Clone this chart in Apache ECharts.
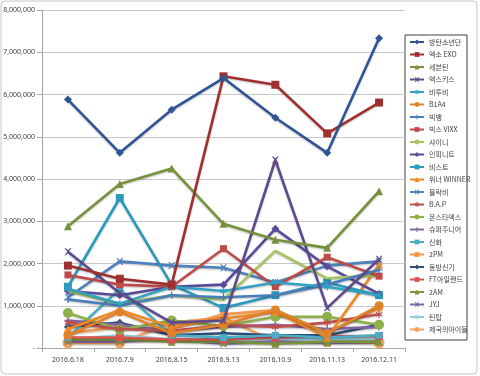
<!DOCTYPE html>
<html><head><meta charset="utf-8">
<script src="https://cdn.jsdelivr.net/npm/echarts@6/dist/echarts.min.js"></script>
<style>html,body{margin:0;padding:0;background:#fff}#c{width:480px;height:376px}</style>
</head><body><div id="c"></div>
<script>
const categories = ['2016.6.18','2016.7.9','2016.8.15','2016.9.13','2016.10.9','2016.11.13','2016.12.11'];
const yTicks = [0,1000000,2000000,3000000,4000000,5000000,6000000,7000000,8000000];
const names = ['방탄소년단','엑소 EXO','세븐틴','엑스키스','비투비','B1A4','빅뱅','빅스 VIXX','샤이니','인피니트','비스트','위너 WINNER','블락비','B.A.P','몬스타엑스','슈퍼주니어','신화','2PM','동방신기','FT아일랜드','2AM','JYJ','틴탑','제국의아이들'];
const bts      = [5880000,4620000,5640000,6390000,5450000,4620000,7330000];
const exo      = [1950000,1640000,1500000,6430000,6230000,5080000,5810000];
const seventeen= [2880000,3880000,4250000,2940000,2560000,2370000,3710000];
const xkiss    = [2280000,1300000,600000,650000,4450000,950000,2100000];
const btob     = [1400000,1050000,1450000,1350000,1550000,1450000,1250000];
const b1a4     = [300000,850000,350000,550000,900000,350000,1000000];
const bigbang  = [1150000,1000000,1250000,1200000,1250000,1500000,1850000];
const vixx     = [1730000,1500000,1450000,2350000,1450000,2150000,1700000];
const shinee   = [1350000,1050000,1250000,1150000,2300000,1650000,1720000];
const infinite = [1350000,1250000,1450000,1500000,2820000,1930000,1280000];
const beast    = [1450000,3550000,1500000,950000,1250000,1550000,1250000];
const winner   = [450000,900000,500000,700000,850000,250000,1970000];
const blockb   = [1200000,2050000,1950000,1900000,1550000,1950000,2050000];
const bap      = [600000,450000,400000,550000,500000,600000,800000];
const monstax  = [830000,430000,650000,520000,740000,740000,550000];
const suju     = [650000,550000,400000,500000,550000,450000,500000];
const shinhwa  = [250000,1400000,300000,250000,300000,250000,300000];
const twopm    = [350000,500000,450000,800000,900000,350000,950000];
const tvxq     = [500000,600000,300000,350000,300000,300000,550000];
const ftisland = [250000,250000,200000,200000,250000,280000,280000];
const twoam    = [200000,200000,150000,150000,100000,150000,150000];
const jyj      = [150000,150000,200000,100000,150000,120000,150000];
const teentop  = [200000,300000,200000,200000,200000,200000,200000];
const zea      = [120000,120000,600000,720000,150000,150000,120000];
const allData = [bts,exo,seventeen,xkiss,btob,b1a4,bigbang,vixx,shinee,infinite,beast,winner,blockb,bap,monstax,suju,shinhwa,twopm,tvxq,ftisland,twoam,jyj,teentop,zea];

const colors = ['#2F5597','#A0302E','#76923C','#5F4B8B','#31A2C3','#E0822A','#4A7EBB','#BE4B48','#A6C55E','#5A4A9A','#2A9BBC','#F08A24','#4F81BD','#C0504D','#8DB04A','#8064A2','#4BACC6','#F79646','#2C4D75','#D9534F','#77933C','#8064A2','#93CDDD','#F2A45C'];
const X = 'path://M0,0L2,0L5,3L8,0L10,0L6,5L10,10L8,10L5,7L2,10L0,10L4,5Z';
const STAR = 'path://M4,0H6V3.5L9,1.5L10,3.2L7,5L10,6.8L9,8.5L6,6.5V10H4V6.5L1,8.5L0,6.8L3,5L0,3.2L1,1.5L4,3.5Z';
const PLUS = 'path://M4,0H6V4H10V6H6V10H4V6H0V4H4Z';
const DASH = 'path://M0,4H10V6H0Z';
const symbols = ['diamond','rect','triangle',X,STAR,'circle',PLUS,DASH,'none','diamond','rect','triangle',X,STAR,'circle',PLUS,DASH,DASH,'diamond','rect','triangle',X,STAR,'circle'];
const sizes = [8,8,8,7,7,9,7,7,0,8,8,8,7,7,10,7,7,7,8,8,8,7,7,11];

const chart = echarts.init(document.getElementById('c'));
const series = names.map((n,i)=>({
  name:n, type:'line', data:allData[i],
  symbol:symbols[i], symbolSize:sizes[i], showSymbol: symbols[i]!=='none',
  lineStyle:{width:2.6,color:colors[i],shadowColor:'rgba(0,0,0,0.25)',shadowBlur:2,shadowOffsetY:1},
  itemStyle:{color:colors[i]},
  z: 24-i, animation:false
}));
chart.setOption({
  animation:false,
  color:colors,
  grid:{left:42,right:75,top:10,bottom:28},
  xAxis:{type:'category',data:categories,boundaryGap:true,
    axisLine:{lineStyle:{color:'#A6A6A6'}},
    axisTick:{show:true,alignWithLabel:false,length:4,lineStyle:{color:'#A6A6A6'}},
    axisLabel:{fontSize:7,color:'#404040',margin:8,fontFamily:'Noto Sans'}},
  yAxis:{type:'value',min:0,max:8000000,interval:1000000,
    axisLine:{show:true,lineStyle:{color:'#A6A6A6'}},
    axisTick:{show:true,length:5,lineStyle:{color:'#A6A6A6'}},
    splitLine:{lineStyle:{color:'#C8C8C8'}},
    axisLabel:{fontSize:7,color:'#404040',margin:7,fontFamily:'Noto Sans',
      formatter:v=> v===0?'-':v.toLocaleString('en-US')}},
  legend:{orient:'vertical',left:409,top:38,itemWidth:14,itemHeight:6,itemGap:4.5,
    padding:0,data:names,
    textStyle:{fontSize:7,color:'#404040',lineHeight:8,fontFamily:'Noto Sans CJK KR'}},
  graphic:[
    {type:'rect',shape:{x:405,y:35,width:62,height:305},style:{fill:'none',stroke:'#404040',lineWidth:1}},
    {type:'rect',shape:{x:1,y:1,width:476,height:373,r:4},style:{fill:'none',stroke:'#C8C8C8',lineWidth:1}}
  ],
  series:series
});
</script></body></html>
